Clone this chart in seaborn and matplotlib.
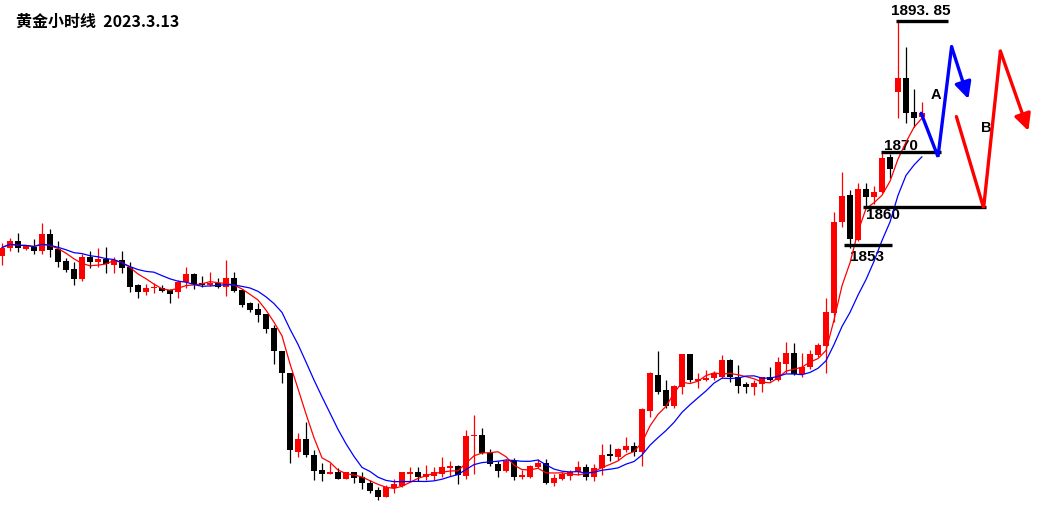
import numpy as np
import pandas as pd
import matplotlib
matplotlib.use("Agg")
import matplotlib.pyplot as plt
import seaborn as sns

# gold, 1h candles
opens = [1851.1, 1852.5, 1853.7, 1852.3, 1852.7, 1852.0, 1855.1, 1852.3, 1850.1, 1848.7,
         1846.9, 1850.9, 1850.0, 1850.6, 1849.4, 1850.3, 1849.1, 1845.7, 1844.6, 1845.2,
         1845.2, 1844.9, 1844.5, 1846.4, 1847.8, 1846.1, 1845.7, 1846.1, 1845.4, 1847.0,
         1844.9, 1842.5, 1841.4, 1840.5, 1837.9, 1833.7, 1829.7, 1815.5, 1817.7, 1814.9,
         1812.1, 1811.5, 1811.7, 1810.6, 1811.7, 1810.9, 1809.8, 1808.5, 1807.3, 1808.8,
         1809.2, 1811.5, 1811.8, 1810.8, 1811.1, 1811.5, 1812.6, 1812.9, 1811.1, 1818.3,
         1818.5, 1815.3, 1813.2, 1812.0, 1813.8, 1810.9, 1810.9, 1812.7, 1813.4, 1809.7,
         1810.5, 1811.1, 1811.8, 1812.7, 1810.9, 1812.5, 1814.9, 1814.6, 1815.7, 1816.5,
         1815.5, 1822.9, 1829.5, 1826.7, 1823.8, 1827.3, 1833.2, 1828.4, 1828.5, 1828.9,
         1829.1, 1832.1, 1829.0, 1827.7, 1827.2, 1827.7, 1829.1, 1828.5, 1831.5, 1833.4,
         1829.6, 1830.8, 1833.1, 1834.7, 1840.7, 1857.3, 1862.1, 1854.0, 1863.2, 1861.7,
         1862.7, 1869.1, 1880.9, 1883.5, 1877.2, 1876.3]
highs = [1853.4, 1854.4, 1855.2, 1853.1, 1854.1, 1857.0, 1856.0, 1853.8, 1850.7, 1850.0,
         1851.4, 1852.0, 1852.6, 1852.7, 1850.9, 1852.0, 1850.0, 1845.9, 1845.9, 1846.1,
         1845.7, 1845.1, 1846.7, 1849.1, 1848.0, 1847.4, 1848.1, 1847.0, 1850.3, 1848.2,
         1845.0, 1842.7, 1842.5, 1840.6, 1838.5, 1833.8, 1829.8, 1818.9, 1820.8, 1815.8,
         1813.4, 1813.5, 1812.5, 1811.8, 1811.8, 1811.8, 1810.3, 1809.0, 1809.4, 1810.6,
         1811.8, 1812.7, 1812.7, 1813.1, 1812.7, 1814.6, 1813.7, 1813.0, 1819.4, 1822.1,
         1819.7, 1815.9, 1813.7, 1814.1, 1814.3, 1812.1, 1813.1, 1814.1, 1814.1, 1811.5,
         1811.8, 1812.1, 1813.8, 1813.2, 1813.2, 1816.9, 1816.9, 1816.2, 1818.2, 1817.3,
         1823.4, 1830.0, 1833.8, 1828.5, 1827.6, 1833.3, 1833.3, 1829.7, 1830.3, 1830.2,
         1833.1, 1832.3, 1831.2, 1828.2, 1828.6, 1829.1, 1830.8, 1832.7, 1835.5, 1835.2,
         1833.4, 1834.0, 1835.3, 1843.5, 1859.1, 1866.3, 1863.1, 1864.3, 1864.4, 1863.7,
         1869.7, 1869.6, 1893.85, 1889.0, 1881.5, 1879.1]
lows = [1849.5, 1852.0, 1851.7, 1852.1, 1851.4, 1851.4, 1850.9, 1849.1, 1848.1, 1845.7,
        1846.5, 1848.8, 1849.1, 1847.9, 1847.9, 1847.9, 1844.6, 1843.5, 1844.0, 1844.3,
        1844.5, 1842.5, 1843.4, 1845.2, 1845.0, 1845.4, 1845.6, 1845.2, 1843.8, 1844.6,
        1841.7, 1840.9, 1839.1, 1837.1, 1831.5, 1827.9, 1813.4, 1814.5, 1814.6, 1810.3,
        1810.2, 1811.4, 1810.5, 1810.5, 1809.7, 1808.7, 1807.9, 1806.7, 1807.2, 1807.9,
        1809.0, 1810.2, 1810.2, 1810.3, 1810.3, 1810.9, 1811.1, 1809.6, 1810.5, 1811.4,
        1815.1, 1812.9, 1810.8, 1811.8, 1810.3, 1810.6, 1810.7, 1812.6, 1809.6, 1809.2,
        1810.3, 1810.3, 1811.2, 1810.3, 1810.2, 1811.2, 1813.8, 1814.0, 1815.5, 1814.7,
        1812.9, 1821.7, 1826.0, 1823.4, 1823.4, 1826.0, 1828.2, 1827.0, 1828.4, 1828.5,
        1828.9, 1828.2, 1826.1, 1826.1, 1825.8, 1826.4, 1828.4, 1828.4, 1829.7, 1829.4,
        1829.1, 1830.6, 1832.7, 1829.7, 1839.1, 1856.4, 1852.6, 1853.7, 1860.0, 1860.5,
        1862.6, 1865.2, 1876.1, 1875.2, 1874.6, 1876.1]
closes = [1852.6, 1853.8, 1852.6, 1852.9, 1852.0, 1855.1, 1852.1, 1850.0, 1848.6, 1846.9,
          1850.9, 1850.0, 1850.6, 1849.6, 1850.3, 1848.9, 1845.5, 1844.6, 1845.3, 1845.4,
          1844.7, 1844.1, 1846.4, 1847.8, 1846.0, 1845.7, 1846.1, 1845.4, 1847.0, 1844.7,
          1842.1, 1841.2, 1840.3, 1837.8, 1833.7, 1829.7, 1815.7, 1817.7, 1814.9, 1812.0,
          1811.5, 1811.7, 1810.6, 1811.7, 1810.7, 1809.7, 1808.3, 1807.3, 1809.1, 1809.6,
          1811.7, 1811.8, 1810.9, 1811.5, 1811.8, 1812.7, 1812.9, 1811.2, 1818.3, 1818.5,
          1815.3, 1813.2, 1812.0, 1813.8, 1810.9, 1811.2, 1812.9, 1813.5, 1809.7, 1810.7,
          1811.4, 1811.8, 1812.7, 1810.9, 1812.6, 1814.9, 1814.7, 1815.9, 1816.5, 1815.5,
          1823.2, 1829.7, 1826.4, 1823.8, 1827.4, 1833.2, 1828.5, 1828.6, 1828.9, 1829.8,
          1832.1, 1829.1, 1827.4, 1827.2, 1827.9, 1829.0, 1828.5, 1831.8, 1833.4, 1829.6,
          1830.9, 1833.2, 1834.9, 1840.8, 1857.3, 1862.0, 1854.1, 1863.2, 1861.7, 1862.7,
          1868.8, 1866.8, 1883.4, 1877.1, 1876.2, 1877.1]

# key levels and their labels
levels = [1893.85, 1870, 1860, 1853]
level_labels = ["1893. 85", "1870", "1860", "1853"]
level_spans = [(111.75, 118.25), (109.9, 117.4), (107.6, 123.0), (105.25, 111.3)]
label_pos = [(114.9, 1895.6), (112.4, 1871.1), (110.1, 1858.6), (108.1, 1850.8)]

# projected paths (A: blue, B: red), bar index vs price
path_a_x = [114.9, 117.0, 118.7, 120.8]
path_a_y = [1877.0, 1869.1, 1889.1, 1879.6]
path_b_x = [119.3, 122.7, 124.8, 128.3]
path_b_y = [1876.4, 1859.8, 1888.3, 1873.8]

df = pd.DataFrame({"open": opens, "high": highs, "low": lows, "close": closes})
df["i"] = np.arange(len(df))
df["ma5"] = df["close"].rolling(5, min_periods=1).mean()
df["ma10"] = df["close"].rolling(10, min_periods=1).mean()

sns.set_style("white")
plt.rcParams["font.family"] = ["Liberation Sans", "Noto Sans CJK SC", "DejaVu Sans"]
plt.rcParams["text.color"] = "black"

fig = plt.figure(figsize=(10.59, 5.07), dpi=100)
ax = fig.add_axes([0, 0, 1, 1])

up = df["close"] >= df["open"]
colors = np.where(up, "#ff0000", "#000000")

ax.vlines(df["i"], df["low"], df["high"], colors=colors, linewidth=0.9, zorder=2)
body_lo = np.minimum(df["open"], df["close"])
body_h = np.maximum((df["close"] - df["open"]).abs(), 0.3)
ax.bar(df["i"], body_h, bottom=body_lo, width=0.72, color=colors,
       edgecolor=colors, linewidth=0, zorder=3)

sns.lineplot(data=df, x="i", y="ma5", color="#ff0000", linewidth=0.9, ax=ax, zorder=4)
sns.lineplot(data=df, x="i", y="ma10", color="#0000ff", linewidth=0.9, ax=ax, zorder=4)

# key levels
for lv, lab, (x0, x1), (tx, ty) in zip(levels, level_labels, level_spans, label_pos):
    ax.hlines(lv, x0, x1, color="black", linewidth=2.4, zorder=5)
    ax.text(tx, ty, lab, ha="center", va="center", fontsize=11,
            fontweight="bold", color="black")

# scenario paths with arrow heads
for px, py, col in [(path_a_x, path_a_y, "#0000ff"), (path_b_x, path_b_y, "#ff0000")]:
    ax.plot(px[:-1], py[:-1], color=col, linewidth=2.4, solid_joinstyle="miter", zorder=6)
    ax.annotate("", xy=(px[-1], py[-1]), xytext=(px[-2], py[-2]),
                arrowprops=dict(arrowstyle="-|>,head_length=1.0,head_width=0.5",
                                color=col, lw=2.4, shrinkA=0, shrinkB=0), zorder=6)

ax.text(116.75, 1880.3, "A", ha="center", va="center", fontsize=10.5,
        fontweight="bold", color="black")
ax.text(123.0, 1874.4, "B", ha="center", va="center", fontsize=10.5,
        fontweight="bold", color="black")

ax.text(16 / 1059, 1 - 22 / 507, "黄金小时线  2023.3.13", transform=ax.transAxes,
        ha="left", va="center", fontsize=11.5, fontweight="bold", color="black",
        family=["Noto Sans CJK SC", "DejaVu Sans"])

ax.set_xlim(-0.25, 132.125)
ax.set_ylim(1805.42, 1897.6)
ax.axis("off")

fig.savefig("out.png", dpi=100, facecolor="white")
